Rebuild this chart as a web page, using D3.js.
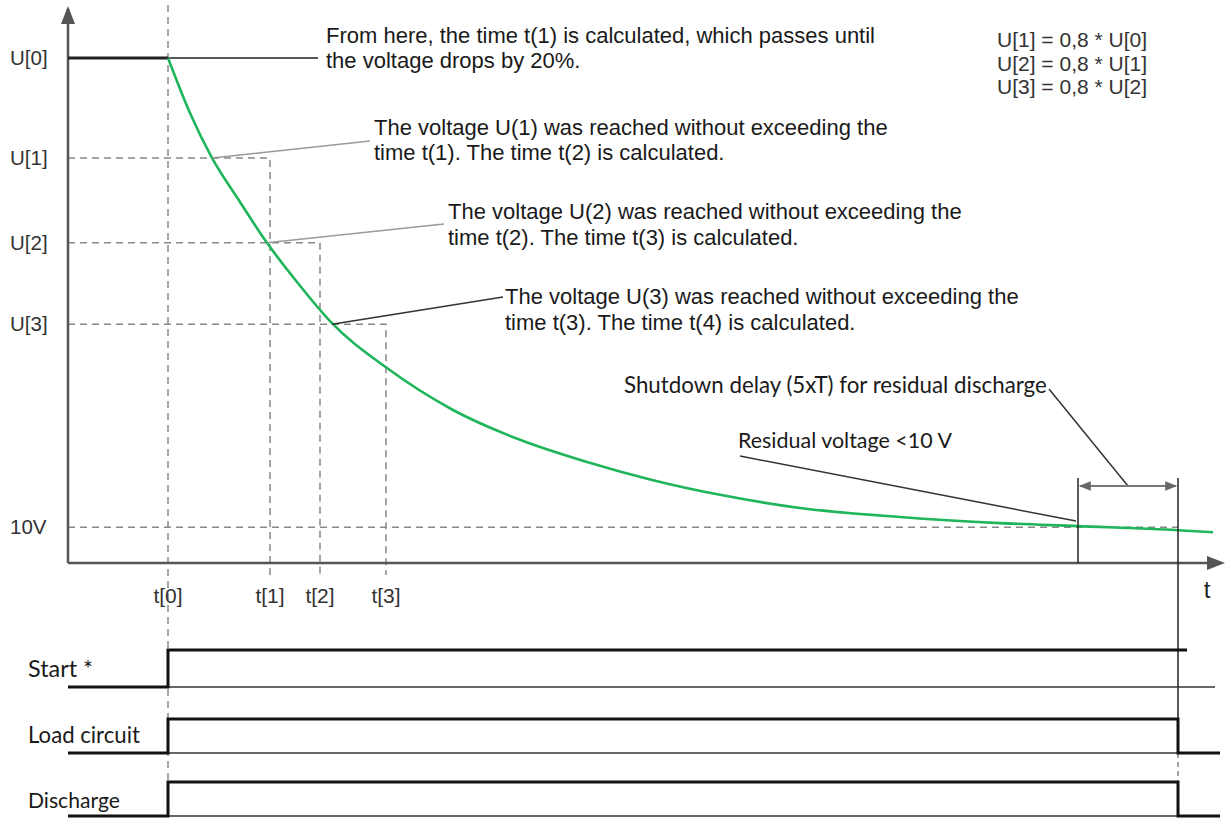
<!DOCTYPE html>
<html><head><meta charset="utf-8">
<script src="https://cdn.jsdelivr.net/npm/d3@7"></script>
<style>
html,body{margin:0;padding:0;background:#fff;}
svg{display:block;}
.arial{font-family:"Liberation Sans",Arial,sans-serif;}
.cal{font-family:Lato,"Open Sans",sans-serif;}
</style></head>
<body>
<svg id="c" width="1225" height="818"></svg>
<script>
// ---------- data ----------
const tNames = ["t[0]", "t[1]", "t[2]", "t[3]"];
const tValues = [10, 20.2, 25.2, 31.8];
const uNames = ["U[0]", "U[1]", "U[2]", "U[3]", "10V"];
const uValues = [100, 80.2, 63.4, 47.3, 7.1];
const curveT = [10, 12.2, 14.4, 17.2, 19.9, 23.0, 26.2, 31.9, 38.5, 45.2, 51.9, 58.5, 65.2, 73.2, 83.2, 93.2, 101.0, 111.0, 114.5];
const curveU = [100, 89.1, 80.2, 71.5, 63.4, 55.4, 47.9, 38.6, 30.3, 24.4, 20.0, 16.4, 13.5, 10.9, 9.1, 7.9, 7.3, 6.5, 6.1];
const shutdownStart = 101, shutdownEnd = 111;
const formulas = ["U[1] = 0,8 * U[0]", "U[2] = 0,8 * U[1]", "U[3] = 0,8 * U[2]"];
const signalNames = ["Start *", "Load circuit", "Discharge"];
const signalRise = [10, 10, 10];
const signalHighEnd = [111.9, 111, 111];
const signalFalls = [false, true, true];
const signalLowEnd = [114.7, 115.2, 115.2];
const noteFromHere = ["From here, the time t(1) is calculated, which passes until", "the voltage drops by 20%."];
const noteU1 = ["The voltage U(1) was reached without exceeding the", "time t(1). The time t(2) is calculated."];
const noteU2 = ["The voltage U(2) was reached without exceeding the", "time t(2). The time t(3) is calculated."];
const noteU3 = ["The voltage U(3) was reached without exceeding the", "time t(3). The time t(4) is calculated."];
const noteShutdown = "Shutdown delay (5xT) for residual discharge";
const noteResidual = "Residual voltage <10 V";

// ---------- scales ----------
const svg = d3.select("#c");
const x = d3.scaleLinear().domain([0, 115]).range([68, 1218]);
const y = d3.scaleLinear().domain([0, 100]).range([563, 58]);
const axisColor = "#555";
const dash = "7,5";

// dashed guides
const g = svg.append("g");
g.append("line").attr("x1", x(tValues[0])).attr("x2", x(tValues[0])).attr("y1", 5).attr("y2", 818)
  .attr("stroke", "#888").attr("stroke-width", 1.5).attr("stroke-dasharray", dash);
for (let i = 1; i <= 3; i++) {
  g.append("path").attr("d", `M${x(0)},${y(uValues[i])}H${x(tValues[i])}V${y(0) + 12}`)
    .attr("fill", "none").attr("stroke", "#888").attr("stroke-width", 1.5).attr("stroke-dasharray", dash);
}
g.append("line").attr("x1", x(0)).attr("x2", x(shutdownEnd)).attr("y1", y(uValues[4])).attr("y2", y(uValues[4]))
  .attr("stroke", "#888").attr("stroke-width", 1.5).attr("stroke-dasharray", dash);

// axes
const defs = svg.append("defs");
defs.append("marker").attr("id", "sa").attr("viewBox", "0 0 10 10").attr("refX", 9).attr("refY", 5)
  .attr("markerWidth", 7).attr("markerHeight", 6).attr("orient", "auto-start-reverse")
  .append("path").attr("d", "M0,1L10,5L0,9Z").attr("fill", "#666");

svg.append("path").attr("d", `M${x(0)},${y(0)}V9`).attr("stroke", axisColor).attr("stroke-width", 2.5).attr("fill", "none");
svg.append("path").attr("d", "M68,6L61,24L75,24Z").attr("fill", axisColor);
svg.append("path").attr("d", `M${x(0)},${y(0)}H1210`).attr("stroke", axisColor).attr("stroke-width", 2.5).attr("fill", "none");
svg.append("path").attr("d", `M1225,${y(0)}L1207,${y(0) - 7}L1207,${y(0) + 7}Z`).attr("fill", axisColor);

// y tick labels
svg.selectAll(".yl").data(uNames).join("text").attr("class", "arial")
  .attr("x", 10).attr("y", (d, i) => y(uValues[i]) + 7).attr("font-size", 20.5).attr("fill", "#333").text(d => d);
// x tick labels
svg.selectAll(".xl").data(tNames).join("text").attr("class", "arial")
  .attr("x", (d, i) => x(tValues[i])).attr("y", 603).attr("text-anchor", "middle")
  .attr("font-size", 21).attr("fill", "#333").text(d => d);
svg.append("text").attr("class", "arial").attr("x", 1207).attr("y", 598).attr("text-anchor", "middle")
  .attr("font-size", 24).attr("fill", "#222").text("t");

// plateau before t0
svg.append("line").attr("x1", x(0)).attr("x2", x(tValues[0])).attr("y1", y(uValues[0])).attr("y2", y(uValues[0]))
  .attr("stroke", "#222").attr("stroke-width", 3);
svg.append("line").attr("x1", x(tValues[0])).attr("x2", 318).attr("y1", y(uValues[0])).attr("y2", y(uValues[0]))
  .attr("stroke", "#222").attr("stroke-width", 1.5);

// green discharge curve
const pts = curveT.map((t, i) => [x(t), y(curveU[i])]);
svg.append("path").attr("d", d3.line().curve(d3.curveMonotoneX)(pts))
  .attr("fill", "none").attr("stroke", "#1fb55a").attr("stroke-width", 2.6);

// annotation leaders
function leader(x1, y1, x2, y2, col) {
  svg.append("line").attr("x1", x1).attr("y1", y1).attr("x2", x2).attr("y2", y2)
    .attr("stroke", col).attr("stroke-width", 1.5);
}
leader(x(14.4), y(uValues[1]), 370, 141, "#9a9a9a");
leader(x(19.9), y(uValues[2]), 444, 224, "#9a9a9a");
leader(x(26.4), y(uValues[3]), 503, 297, "#333");
leader(1049, 389, x(106), 486, "#333");
leader(740, 456, x(shutdownStart) - 2, 521, "#333");

function note(lines, x0, y0, lh) {
  const t = svg.append("text").attr("class", "arial").attr("font-size", 22).attr("fill", "#1a1a1a");
  lines.forEach((l, i) => t.append("tspan").attr("x", x0).attr("y", y0 + i * lh).text(l));
}
note(noteFromHere, 326, 43, 25);
note(noteU1, 374, 135, 25);
note(noteU2, 448, 219, 26);
note(noteU3, 505, 304, 26);

// formulas
const ft = svg.append("text").attr("class", "arial").attr("font-size", 21).attr("fill", "#333");
formulas.forEach((f, i) => ft.append("tspan").attr("x", 997).attr("y", 47 + i * 23.5).text(f));

// Calibri-like labels fitted to width
function fitText(str, x0, y0, w) {
  const t = svg.append("text").attr("class", "cal").attr("x", x0).attr("y", y0).attr("font-size", 22)
    .attr("fill", "#1a1a1a").text(str);
  const cw = t.node().getComputedTextLength();
  t.attr("font-size", 22 * w / cw);
  return t;
}
fitText(noteShutdown, 624, 393, 423);
fitText(noteResidual, 738, 448, 214);

// shutdown bracket
svg.append("line").attr("x1", x(shutdownStart)).attr("x2", x(shutdownStart)).attr("y1", 478).attr("y2", y(0))
  .attr("stroke", "#222").attr("stroke-width", 1.5);
svg.append("line").attr("x1", x(shutdownEnd)).attr("x2", x(shutdownEnd)).attr("y1", 478).attr("y2", 719)
  .attr("stroke", "#222").attr("stroke-width", 1.5);
svg.append("line").attr("x1", x(shutdownStart) + 2).attr("x2", x(shutdownEnd) - 2).attr("y1", 486).attr("y2", 486)
  .attr("stroke", "#777").attr("stroke-width", 2)
  .attr("marker-start", "url(#sa)").attr("marker-end", "url(#sa)");
svg.append("line").attr("x1", x(shutdownEnd)).attr("x2", x(shutdownEnd)).attr("y1", 753).attr("y2", 782)
  .attr("stroke", "#888").attr("stroke-width", 1.5).attr("stroke-dasharray", "5,4");

// timing diagram
const rowHigh = [650, 719, 782], rowLow = [687, 753, 816], rowLabelY = [677, 743, 808];
signalNames.forEach((nm, i) => {
  const hi = rowHigh[i], lo = rowLow[i];
  svg.append("line").attr("x1", x(signalRise[i])).attr("x2", signalFalls[i] ? x(signalHighEnd[i]) : x(signalLowEnd[i]))
    .attr("y1", lo).attr("y2", lo).attr("stroke", "#333").attr("stroke-width", 1.5);
  let d = `M${x(0)},${lo}H${x(signalRise[i])}V${hi}H${x(signalHighEnd[i])}`;
  if (signalFalls[i]) d += `V${lo}H${x(signalLowEnd[i])}`;
  svg.append("path").attr("d", d).attr("fill", "none").attr("stroke", "#111").attr("stroke-width", 3);
});
fitText(signalNames[0], 28, rowLabelY[0], 65);
fitText(signalNames[1], 28, rowLabelY[1], 112);
fitText(signalNames[2], 28, rowLabelY[2], 92);
</script>
</body></html>
